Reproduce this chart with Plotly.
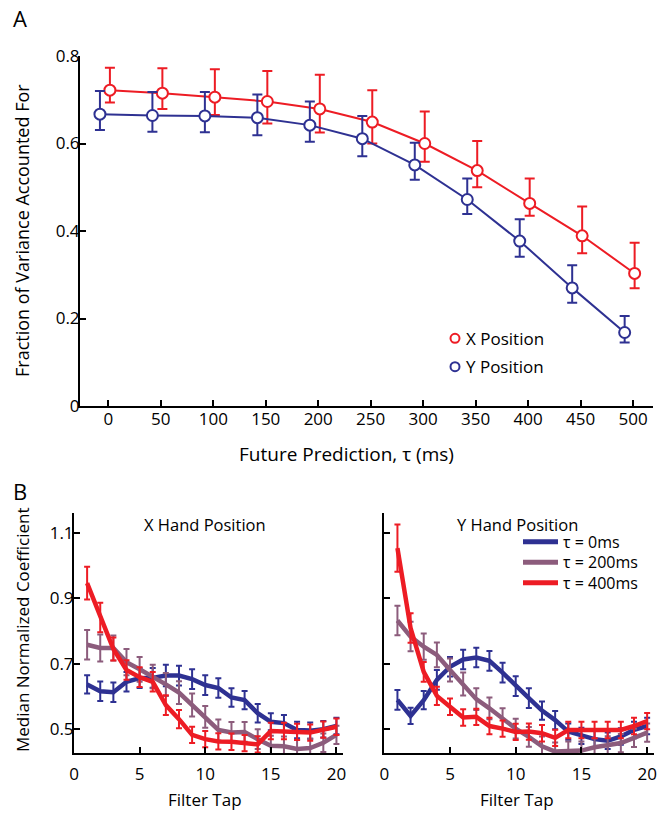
import plotly.graph_objects as go

# ---------------- Panel A data ----------------
tau = [0, 50, 100, 150, 200, 250, 300, 350, 400, 450, 500]
x_pos = [0.722, 0.715, 0.706, 0.696, 0.679, 0.649, 0.600, 0.538, 0.463, 0.389, 0.303]
x_pos_hi = [0.773, 0.772, 0.770, 0.766, 0.757, 0.722, 0.673, 0.606, 0.520, 0.456, 0.373]
x_pos_lo = [0.694, 0.679, 0.665, 0.646, 0.625, 0.600, 0.558, 0.500, 0.435, 0.349, 0.269]
y_pos = [0.667, 0.664, 0.663, 0.659, 0.642, 0.611, 0.551, 0.472, 0.377, 0.270, 0.168]
y_pos_hi = [0.720, 0.718, 0.718, 0.712, 0.696, 0.663, 0.602, 0.520, 0.427, 0.322, 0.206]
y_pos_lo = [0.631, 0.627, 0.626, 0.619, 0.604, 0.571, 0.517, 0.439, 0.341, 0.236, 0.145]
legend_a = ["X Position", "Y Position"]

# ---------------- Panel B data ----------------
taps = list(range(1, 21))
xh_tau0 = [0.637, 0.616, 0.613, 0.645, 0.656, 0.657, 0.664, 0.664, 0.653, 0.635,
           0.626, 0.597, 0.589, 0.549, 0.523, 0.519, 0.498, 0.496, 0.500, 0.510]
xh_tau0_err = [0.028, 0.03, 0.03, 0.03, 0.03, 0.03, 0.033, 0.03, 0.03, 0.03,
               0.03, 0.028, 0.028, 0.028, 0.026, 0.025, 0.025, 0.025, 0.025, 0.025]
xh_tau200 = [0.758, 0.748, 0.748, 0.705, 0.683, 0.661, 0.637, 0.612, 0.574, 0.538,
             0.498, 0.490, 0.492, 0.470, 0.450, 0.448, 0.440, 0.443, 0.459, 0.483]
xh_tau200_err = [0.045, 0.041, 0.038, 0.04, 0.038, 0.036, 0.035, 0.035, 0.035, 0.033,
                 0.032, 0.032, 0.03, 0.03, 0.03, 0.03, 0.028, 0.028, 0.028, 0.028]
xh_tau400 = [0.946, 0.841, 0.745, 0.681, 0.659, 0.645, 0.574, 0.531, 0.483, 0.470,
             0.463, 0.462, 0.458, 0.454, 0.495, 0.495, 0.492, 0.490, 0.499, 0.508]
xh_tau400_err = [0.05, 0.045, 0.035, 0.03, 0.03, 0.03, 0.03, 0.028, 0.025, 0.025,
                 0.025, 0.025, 0.025, 0.025, 0.025, 0.025, 0.025, 0.025, 0.025, 0.025]

yh_tau0 = [0.590, 0.541, 0.589, 0.651, 0.691, 0.713, 0.719, 0.709, 0.673, 0.632,
           0.595, 0.557, 0.528, 0.493, 0.480, 0.470, 0.465, 0.478, 0.498, 0.510]
yh_tau0_err = [0.03, 0.025, 0.028, 0.03, 0.03, 0.03, 0.03, 0.03, 0.03, 0.03,
               0.03, 0.028, 0.028, 0.025, 0.025, 0.025, 0.025, 0.025, 0.025, 0.025]
yh_tau200 = [0.832, 0.783, 0.752, 0.727, 0.681, 0.638, 0.592, 0.564, 0.534, 0.502,
             0.477, 0.448, 0.432, 0.435, 0.435, 0.445, 0.451, 0.458, 0.474, 0.490]
yh_tau200_err = [0.045, 0.045, 0.04, 0.038, 0.035, 0.035, 0.033, 0.033, 0.03, 0.03,
                 0.03, 0.03, 0.028, 0.028, 0.028, 0.028, 0.028, 0.028, 0.028, 0.028]
yh_tau400 = [1.053, 0.809, 0.675, 0.602, 0.569, 0.536, 0.538, 0.510, 0.502, 0.492,
             0.493, 0.488, 0.474, 0.498, 0.498, 0.498, 0.498, 0.498, 0.510, 0.525]
yh_tau400_err = [0.072, 0.045, 0.03, 0.028, 0.025, 0.025, 0.025, 0.025, 0.025, 0.025,
                 0.025, 0.025, 0.025, 0.025, 0.025, 0.025, 0.025, 0.025, 0.025, 0.025]
legend_b = ["τ = 0ms", "τ = 200ms", "τ = 400ms"]

RED = "#ED1C24"
BLUE = "#2E3192"
MAUVE = "#8C5C7C"
FONT = "Open Sans"

W, H = 671, 817
def px(x):
    return x / W
def py(y):
    return 1 - y / H

fig = go.Figure()

# ---------- Panel A ----------
red_off, blue_off = 1.5, -8
for vals, hi, lo, col, off in [(x_pos, x_pos_hi, x_pos_lo, RED, red_off),
                               (y_pos, y_pos_hi, y_pos_lo, BLUE, blue_off)]:
    fig.add_trace(go.Scatter(
        x=[t + off for t in tau], y=vals, mode="lines+markers",
        line=dict(color=col, width=2),
        marker=dict(symbol="circle", size=11, color="white", line=dict(color=col, width=2)),
        error_y=dict(type="data", symmetric=False,
                     array=[h - v for h, v in zip(hi, vals)],
                     arrayminus=[v - l for v, l in zip(vals, lo)],
                     color=col, thickness=2, width=5),
        xaxis="x", yaxis="y", showlegend=False))

# ---------- Panel B ----------
def add_b(y, err, color, xa, ya):
    fig.add_trace(go.Scatter(
        x=taps, y=y, mode="lines", line=dict(color=color, width=4.5),
        error_y=dict(type="data", array=err, color=color, thickness=2, width=3),
        xaxis=xa, yaxis=ya, showlegend=False))

add_b(xh_tau0, xh_tau0_err, BLUE, "x2", "y2")
add_b(xh_tau200, xh_tau200_err, MAUVE, "x2", "y2")
add_b(xh_tau400, xh_tau400_err, RED, "x2", "y2")
add_b(yh_tau0, yh_tau0_err, BLUE, "x3", "y3")
add_b(yh_tau200, yh_tau200_err, MAUVE, "x3", "y3")
add_b(yh_tau400, yh_tau400_err, RED, "x3", "y3")

ax_common = dict(showline=True, linecolor="black", linewidth=2, ticks="inside",
                 ticklen=6, tickwidth=2, tickcolor="black", showgrid=False,
                 zeroline=False, automargin=False,
                 tickfont=dict(family=FONT, size=17, color="black"))

fig.update_layout(
    template="none",
    width=W, height=H, margin=dict(l=0, r=0, t=0, b=0),
    paper_bgcolor="white", plot_bgcolor="white", showlegend=False,
    font=dict(family=FONT, size=17, color="black"),
    xaxis=dict(domain=[px(80), px(653)], range=[-27, 519],
               tickvals=tau, anchor="y", ticklabelstandoff=-3, **ax_common),
    yaxis=dict(domain=[py(406), py(56)], range=[0, 0.8],
               tickvals=[0, 0.2, 0.4, 0.6, 0.8], ticktext=["0", "0.2", "0.4", "0.6", "0.8"],
               anchor="x", ticklabelstandoff=-5, **ax_common),
    xaxis2=dict(domain=[px(74), px(343)], range=[0, 20.5],
                tickvals=[0, 5, 10, 15, 20], anchor="y2", ticklabelstandoff=5, **ax_common),
    yaxis2=dict(domain=[py(753), py(513)], range=[0.4277, 1.16],
                tickvals=[0.5, 0.7, 0.9, 1.1], ticktext=["0.5", "0.7", "0.9", "1.1"],
                anchor="x2", ticklabelstandoff=-5, **ax_common),
    xaxis3=dict(domain=[px(384.3), px(653.7)], range=[0, 20.5],
                tickvals=[0, 5, 10, 15, 20], anchor="y3", ticklabelstandoff=5, **ax_common),
    yaxis3=dict(domain=[py(753), py(513)], range=[0.4277, 1.16],
                tickvals=[0.5, 0.7, 0.9, 1.1], showticklabels=False,
                anchor="x3", **ax_common),
)

# ---------- legends drawn as shapes + text ----------
for i, (name, col) in enumerate(zip(legend_a, [RED, BLUE])):
    cy = 338.3 + i * 28.4
    fig.add_shape(type="circle", xref="paper", yref="paper",
                  x0=px(450.5), x1=px(459.5), y0=py(cy + 4.5), y1=py(cy - 4.5),
                  line=dict(color=col, width=2), fillcolor="white")
    fig.add_annotation(text=name, x=px(465), y=py(cy), xref="paper", yref="paper",
                       showarrow=False, xanchor="left", yanchor="middle", borderpad=0,
                       font=dict(family=FONT, size=17, color="black"))

for i, (name, col) in enumerate(zip(legend_b, [BLUE, MAUVE, RED])):
    cy = 541.7 + i * 20.5
    fig.add_shape(type="line", xref="paper", yref="paper",
                  x0=px(523), x1=px(558), y0=py(cy), y1=py(cy),
                  line=dict(color=col, width=5))
    fig.add_annotation(text=name, x=px(562), y=py(cy), xref="paper", yref="paper",
                       showarrow=False, xanchor="left", yanchor="middle", borderpad=0,
                       font=dict(family=FONT, size=16, color="black"))

ann = [
    dict(text="A", x=px(20), y=py(18), size=22),
    dict(text="B", x=px(20), y=py(491), size=22),
    dict(text="Future Prediction, τ (ms)", x=px(347), y=py(454), size=19),
    dict(text="Fraction of Variance Accounted For", x=px(22), y=py(231), size=18, angle=-90),
    dict(text="Median Normalized Coefficient", x=px(22), y=py(630), size=17, angle=-90),
    dict(text="X Hand Position", x=px(205), y=py(524), size=16.5),
    dict(text="Y Hand Position", x=px(517), y=py(524), size=16.5),
    dict(text="Filter Tap", x=px(205), y=py(799), size=17),
    dict(text="Filter Tap", x=px(517), y=py(799), size=17),
]
for a in ann:
    fig.add_annotation(text=a["text"], x=a["x"], y=a["y"], xref="paper", yref="paper",
                       showarrow=False, xanchor="center", yanchor="middle", borderpad=0,
                       textangle=a.get("angle", 0),
                       font=dict(family=FONT, size=a["size"], color="black"))

fig.write_html("out.html", config={"displayModeBar": False},
               post_script="document.body.style.margin='0';document.body.style.padding='0';"
                           "document.body.style.overflow='hidden';")
